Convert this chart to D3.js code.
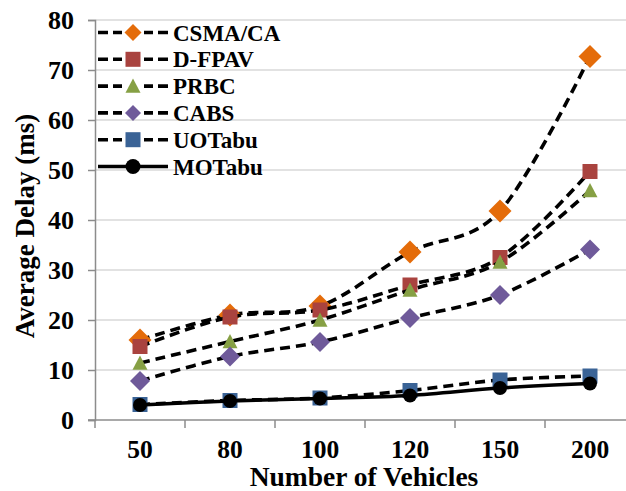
<!DOCTYPE html>
<html>
<head>
<meta charset="utf-8">
<script src="https://cdn.jsdelivr.net/npm/d3@7"></script>
<style>
  html, body { margin: 0; padding: 0; background: #fff; }
  svg { display: block; font-family: "Liberation Serif", "Times New Roman", serif; font-weight: bold; }
</style>
</head>
<body>
<svg id="chart" width="626" height="491"></svg>
<script>
// Number of vehicles on the x axis
const vehicles = ["50", "80", "100", "120", "150", "200"];
const yTicks = [0, 10, 20, 30, 40, 50, 60, 70, 80];

// Average delay (ms) per scheme
const csmaCA = [16.0, 21.0, 22.8, 33.6, 41.8, 72.7];
const dFPAV  = [14.7, 20.6, 22.0, 27.0, 32.5, 49.7];
const prbc   = [11.4, 15.7, 20.0, 26.0, 31.6, 45.9];
const cabs   = [7.8, 12.7, 15.6, 20.4, 25.0, 34.1];
const uoTabu = [3.1, 3.9, 4.4, 5.9, 8.0, 8.8];
const moTabu = [3.0, 3.8, 4.3, 4.9, 6.4, 7.3];

const series = [
  { name: "CSMA/CA", values: csmaCA, color: "#E46C0A", shape: "diamond", size: 23, legendSize: 17, dash: true },
  { name: "D-FPAV",  values: dFPAV,  color: "#A9433F", shape: "square",  size: 15, legendSize: 15, dash: true },
  { name: "PRBC",    values: prbc,   color: "#86A044", shape: "triangle", size: 15, legendSize: 15, dash: true },
  { name: "CABS",    values: cabs,   color: "#6F5A9A", shape: "diamond", size: 20, legendSize: 16, dash: true },
  { name: "UOTabu",  values: uoTabu, color: "#3A6396", shape: "square",  size: 15, legendSize: 15, dash: true },
  { name: "MOTabu",  values: moTabu, color: "#000000", shape: "circle",  size: 14, legendSize: 15, dash: false }
];

const svg = d3.select("#chart");
const plotLeft = 95, plotRight = 635, plotTop = 20, plotBottom = 420;

const x = d3.scaleBand().domain(vehicles).range([plotLeft, plotRight]);
const y = d3.scaleLinear().domain([0, 80]).range([plotBottom, plotTop]);
const cx = v => x(v) + x.bandwidth() / 2;

// Horizontal gridlines
svg.append("g").selectAll("line").data(yTicks.filter(d => d > 0)).join("line")
  .attr("x1", plotLeft).attr("x2", 626)
  .attr("y1", d => y(d)).attr("y2", d => y(d))
  .attr("stroke", "#d9d9d9").attr("stroke-width", 1.5);

// Y axis
const yAxis = svg.append("g").attr("transform", `translate(${plotLeft},0)`)
  .call(d3.axisLeft(y).tickValues(yTicks).tickSize(7).tickPadding(14));
yAxis.select(".domain").attr("stroke", "#8c8c8c").attr("stroke-width", 1.5);
yAxis.selectAll(".tick line").attr("stroke", "#8c8c8c").attr("stroke-width", 1.5);
yAxis.selectAll("text").attr("font-size", 26).attr("font-family", "Liberation Serif")
  .attr("font-weight", "bold").attr("fill", "#000");

// X axis with ticks on band boundaries
const xAxisG = svg.append("g").attr("transform", `translate(0,${plotBottom})`);
xAxisG.append("line").attr("x1", plotLeft - 7).attr("x2", 626)
  .attr("stroke", "#8c8c8c").attr("stroke-width", 1.5);
xAxisG.selectAll("line.tk").data(vehicles).join("line").attr("class", "tk")
  .attr("x1", d => x(d)).attr("x2", d => x(d)).attr("y1", 0).attr("y2", 8)
  .attr("stroke", "#8c8c8c").attr("stroke-width", 1.5);
xAxisG.selectAll("text").data(vehicles).join("text")
  .attr("x", d => cx(d)).attr("y", 37.5)
  .attr("text-anchor", "middle").attr("font-size", 25.5).text(d => d);

// Axis titles
svg.append("text").attr("x", 364).attr("y", 486).attr("text-anchor", "middle")
  .attr("font-size", 27.5).text("Number of Vehicles");
svg.append("text").attr("transform", "translate(34,226) rotate(-90)")
  .attr("text-anchor", "middle").attr("font-size", 27).text("Average Delay (ms)");

// Marker shapes; size is the full width of the mark
function marker(sel, shape, color, size) {
  const h = size / 2;
  if (shape === "circle") {
    sel.append("circle").attr("r", h).attr("fill", color);
  } else if (shape === "square") {
    sel.append("rect").attr("x", -h).attr("y", -h).attr("width", size).attr("height", size)
      .attr("fill", color);
  } else if (shape === "diamond") {
    sel.append("path").attr("d", `M0,${-h}L${h},0L0,${h}L${-h},0Z`).attr("fill", color);
  } else {
    sel.append("path").attr("d", `M0,${-h}L${h},${h * 0.9}L${-h},${h * 0.9}Z`).attr("fill", color);
  }
}

const line = d3.line()
  .x((d, i) => cx(vehicles[i]))
  .y(d => y(d))
  .curve(d3.curveCardinal.tension(0));

// Each series draws its line and markers in turn; later series sit on top
const plot = svg.append("g");
series.forEach(s => {
  const g = plot.append("g");
  g.append("path").datum(s.values)
    .attr("d", line).attr("fill", "none").attr("stroke", "#000")
    .attr("stroke-width", 3.6)
    .attr("stroke-dasharray", s.dash ? "10,6" : null);
  s.values.forEach((v, i) => {
    const m = g.append("g").attr("transform", `translate(${cx(vehicles[i])},${y(v)})`);
    marker(m, s.shape, s.color, s.size);
  });
});

// Legend
const legend = svg.append("g");
series.forEach((s, i) => {
  const cy = 32.5 + i * 26.8;
  const g = legend.append("g");
  g.append("line").attr("x1", 98).attr("x2", 168).attr("y1", cy).attr("y2", cy)
    .attr("stroke", "#000").attr("stroke-width", 3.6)
    .attr("stroke-dasharray", s.dash ? "10,5" : null);
  const m = g.append("g").attr("transform", `translate(133,${cy})`);
  if (s.dash) {
    m.append("rect").attr("x", -11).attr("y", -4).attr("width", 22).attr("height", 8).attr("fill", "#fff");
  }
  marker(m, s.shape, s.color, s.legendSize);
  g.append("text").attr("x", 173).attr("y", cy + 8).attr("font-size", 23).text(s.name);
});
</script>
</body>
</html>
